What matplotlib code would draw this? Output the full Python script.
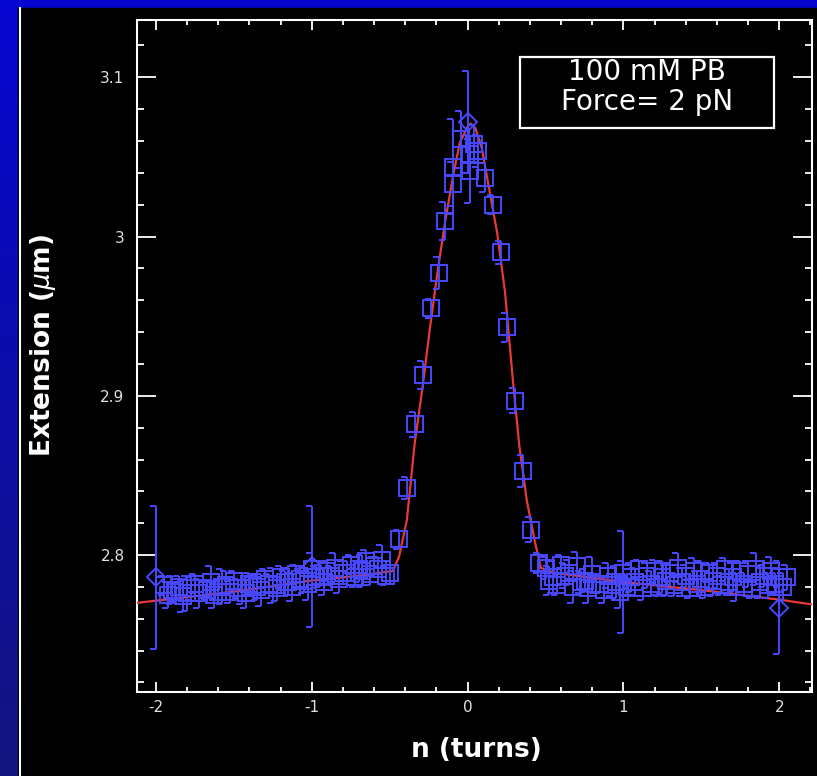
import numpy as np
import matplotlib.pyplot as plt
from matplotlib.path import Path
from matplotlib.patches import Rectangle
from matplotlib.ticker import MultipleLocator

plt.rcParams['axes.unicode_minus'] = False

# squares, first sweep (baseline left, peak, baseline right)
left_x = [-1.95, -1.90, -1.85, -1.80, -1.75, -1.70, -1.65, -1.60, -1.55, -1.50,
          -1.45, -1.40, -1.35, -1.30, -1.25, -1.20, -1.15, -1.10, -1.05, -1.00,
          -0.95, -0.90, -0.85, -0.80, -0.75, -0.70, -0.65, -0.60, -0.55, -0.50]
left_y = [2.781, 2.778, 2.780, 2.776, 2.782, 2.779, 2.783, 2.777, 2.781, 2.784,
          2.779, 2.782, 2.780, 2.785, 2.781, 2.786, 2.783, 2.788, 2.784, 2.791,
          2.787, 2.790, 2.792, 2.789, 2.794, 2.791, 2.796, 2.793, 2.797, 2.789]
left_err = [0.006, 0.009, 0.007, 0.011, 0.006, 0.008, 0.010, 0.007, 0.009, 0.006,
            0.010, 0.007, 0.008, 0.006, 0.011, 0.007, 0.009, 0.006, 0.008, 0.010,
            0.007, 0.006, 0.009, 0.007, 0.006, 0.008, 0.007, 0.006, 0.009, 0.007]

peak_x = [-0.439, -0.390, -0.338, -0.285, -0.233, -0.182, -0.143, -0.094, -0.040,
          0.013, 0.066, 0.114, 0.165, 0.216, 0.255, 0.306, 0.358, 0.409, 0.458]
peak_y = [2.810, 2.842, 2.882, 2.913, 2.955, 2.977, 3.010, 3.033, 3.061,
          3.052, 3.054, 3.037, 3.020, 2.990, 2.943, 2.897, 2.853, 2.816, 2.795]
peak_err = [0.006, 0.007, 0.008, 0.009, 0.006, 0.010, 0.012, 0.014, 0.018,
            0.012, 0.010, 0.009, 0.006, 0.007, 0.009, 0.008, 0.010, 0.008, 0.006]

right_x = [0.50, 0.55, 0.60, 0.65, 0.70, 0.75, 0.80, 0.85, 0.90, 0.95,
           1.00, 1.05, 1.10, 1.15, 1.20, 1.25, 1.30, 1.35, 1.40, 1.45,
           1.50, 1.55, 1.60, 1.65, 1.70, 1.75, 1.80, 1.85, 1.90, 1.95, 2.00, 2.05]
right_y = [2.792, 2.786, 2.794, 2.789, 2.793, 2.784, 2.788, 2.782, 2.787, 2.783,
           2.789, 2.786, 2.791, 2.787, 2.790, 2.786, 2.789, 2.792, 2.787, 2.790,
           2.785, 2.789, 2.787, 2.791, 2.786, 2.790, 2.788, 2.791, 2.787, 2.790, 2.786, 2.786]
right_err = [0.007, 0.010, 0.006, 0.008, 0.009, 0.007, 0.011, 0.006, 0.008, 0.010,
             0.007, 0.009, 0.006, 0.008, 0.007, 0.010, 0.006, 0.009, 0.007, 0.008,
             0.011, 0.006, 0.008, 0.007, 0.009, 0.006, 0.008, 0.010, 0.007, 0.009, 0.006, 0.008]

# squares, second sweep (slightly lower rows)
left2_x = [-1.925, -1.875, -1.825, -1.775, -1.725, -1.675, -1.625, -1.575, -1.525, -1.475,
           -1.425, -1.375, -1.325, -1.275, -1.225, -1.175, -1.125, -1.075, -1.025, -0.975,
           -0.925, -0.875, -0.825, -0.775, -0.725, -0.675, -0.625, -0.575, -0.525]
left2_y = [2.775, 2.777, 2.774, 2.779, 2.776, 2.778, 2.775, 2.780, 2.777, 2.779,
           2.776, 2.781, 2.778, 2.782, 2.779, 2.783, 2.780, 2.785, 2.782, 2.786,
           2.783, 2.787, 2.785, 2.789, 2.786, 2.790, 2.788, 2.791, 2.787]
left2_err = [0.008, 0.006, 0.010, 0.007, 0.009, 0.006, 0.008, 0.011, 0.007, 0.006,
             0.009, 0.007, 0.010, 0.006, 0.008, 0.007, 0.009, 0.006, 0.010, 0.007,
             0.008, 0.006, 0.009, 0.007, 0.006, 0.010, 0.007, 0.008, 0.006]

right2_x = [0.525, 0.575, 0.625, 0.675, 0.725, 0.775, 0.825, 0.875, 0.925, 0.975,
            1.025, 1.075, 1.125, 1.175, 1.225, 1.275, 1.325, 1.375, 1.425, 1.475,
            1.525, 1.575, 1.625, 1.675, 1.725, 1.775, 1.825, 1.875, 1.925, 1.975, 2.025]
right2_y = [2.784, 2.781, 2.787, 2.780, 2.783, 2.779, 2.782, 2.778, 2.781, 2.777,
            2.780, 2.783, 2.779, 2.782, 2.780, 2.784, 2.781, 2.783, 2.779, 2.782,
            2.780, 2.784, 2.781, 2.783, 2.780, 2.782, 2.779, 2.783, 2.781, 2.782, 2.780]
right2_err = [0.009, 0.006, 0.008, 0.010, 0.007, 0.009, 0.006, 0.008, 0.007, 0.010,
              0.006, 0.009, 0.007, 0.008, 0.006, 0.010, 0.007, 0.009, 0.006, 0.008,
              0.007, 0.010, 0.006, 0.008, 0.009, 0.007, 0.006, 0.010, 0.008, 0.007, 0.009]

top2_x = [-0.093, 0.013, 0.040]
top2_y = [3.044, 3.041, 3.058]
top2_err = [0.030, 0.020, 0.012]

# diamonds with the large error bars
dia_x = [-2.0, -1.0, 0.0, 1.0, 2.0]
dia_y = [2.786, 2.793, 3.072, 2.783, 2.767]
dia_err = [0.045, 0.038, 0.032, 0.032, 0.029]

# red fit curve
fit_x = [-2.12, -1.5, -1.0, -0.7, -0.48, -0.44, -0.39, -0.34, -0.29, -0.24, -0.19,
         -0.14, -0.09, -0.05, 0.0, 0.02, 0.05, 0.09, 0.14, 0.19, 0.24, 0.29, 0.33,
         0.38, 0.43, 0.47, 0.55, 1.0, 1.5, 2.0, 2.21]
fit_y = [2.770, 2.777, 2.784, 2.787, 2.790, 2.799, 2.822, 2.870, 2.905, 2.944, 2.980,
         3.012, 3.040, 3.059, 3.069, 3.071, 3.068, 3.056, 3.029, 3.002, 2.965, 2.910, 2.870,
         2.834, 2.809, 2.792, 2.789, 2.783, 2.778, 2.772, 2.769]

blue = '#4848ff'
red = '#e83838'
# cap that only sticks out to the left
half_cap = Path([(-1, 0), (0, 0)])

fig = plt.figure(figsize=(8.17, 7.76), dpi=100)

# blue gradient behind everything
bg = fig.add_axes([0, 0, 1, 1])
grad = np.linspace(0, 1, 256).reshape(-1, 1)
cols = np.zeros((256, 1, 3))
cols[:, 0, 2] = 0.82 - 0.32 * grad[:, 0]
cols[:, 0, 0] = 0.02 + 0.06 * grad[:, 0]
cols[:, 0, 1] = 0.02 + 0.06 * grad[:, 0]
bg.imshow(cols, aspect='auto', extent=[0, 1, 0, 1])
bg.add_patch(Rectangle((18 / 817, 0), 1, 1 - 8 / 776, color='black'))
bg.plot([19.5 / 817, 19.5 / 817], [0, 1 - 8 / 776], color='white', lw=1.5)
bg.set_xlim(0, 1)
bg.set_ylim(0, 1)
bg.axis('off')

ax = fig.add_axes([137 / 817, 1 - 692 / 776, 675 / 817, 672 / 776])
ax.set_facecolor('black')

ax.plot(fit_x, fit_y, color=red, lw=1.6, zorder=3)


def draw_set(xs, ys, es, marker, ms):
    xs = np.array(xs)
    ys = np.array(ys)
    es = np.array(es)
    ax.errorbar(xs, ys, yerr=es, fmt='none', ecolor=blue, elinewidth=1.4, capsize=0, zorder=4)
    ax.plot(xs, ys + es, ls='none', marker=half_cap, ms=9, mew=1.4, color=blue, zorder=4)
    ax.plot(xs, ys - es, ls='none', marker=half_cap, ms=9, mew=1.4, color=blue, zorder=4)
    ax.plot(xs, ys, ls='none', marker=marker, ms=ms, mfc='none', mec=blue, mew=1.4, zorder=5)


draw_set(left_x, left_y, left_err, 's', 12)
draw_set(left2_x, left2_y, left2_err, 's', 12)
draw_set(peak_x, peak_y, peak_err, 's', 12)
draw_set(top2_x, top2_y, top2_err, 's', 12)
draw_set(right_x, right_y, right_err, 's', 12)
draw_set(right2_x, right2_y, right2_err, 's', 12)
draw_set(dia_x, dia_y, dia_err, 'D', 9)

ax.set_xlim(-2.122, 2.21)
ax.set_ylim(2.714, 3.136)
ax.set_xticks([-2, -1, 0, 1, 2])
ax.set_xticklabels(['-2', '-1', '0', '1', '2'])
ax.set_yticks([2.8, 2.9, 3.0, 3.1])
ax.set_yticklabels(['2.8', '2.9', '3', '3.1'])
ax.xaxis.set_minor_locator(MultipleLocator(0.2))
ax.yaxis.set_minor_locator(MultipleLocator(0.02))

for s in ax.spines.values():
    s.set_color('white')
    s.set_linewidth(1.5)
ax.tick_params(which='both', direction='in', top=True, right=True, colors='white', width=1.3,
               labelcolor='#e0e0e0', labelsize=11)
ax.tick_params(axis='x', which='major', length=7, pad=6)
ax.tick_params(axis='x', which='minor', length=3.6)
ax.tick_params(axis='y', which='major', length=14, pad=9)
ax.tick_params(axis='y', which='minor', length=5)

# label box
ax.add_patch(Rectangle((0.568, 0.8397), 0.376, 0.1057, transform=ax.transAxes,
                       fill=False, ec='white', lw=1.6, zorder=6))
ax.text(0.7556, 0.9226, '100 mM PB', transform=ax.transAxes, color='white',
        fontsize=20, ha='center', va='center', zorder=7)
ax.text(0.7556, 0.878, 'Force= 2 pN', transform=ax.transAxes, color='white',
        fontsize=20, ha='center', va='center', zorder=7)

fig.text(43 / 817, 1 - 345 / 776, 'Extension ($\\mu$m)', rotation=90, color='white',
         fontsize=19, fontweight='bold', ha='center', va='center')
fig.text(476 / 817, 1 - 750 / 776, 'n (turns)', color='white',
         fontsize=19, fontweight='bold', ha='center', va='center')

fig.savefig('out.png', dpi=100, facecolor='#0000cc')
